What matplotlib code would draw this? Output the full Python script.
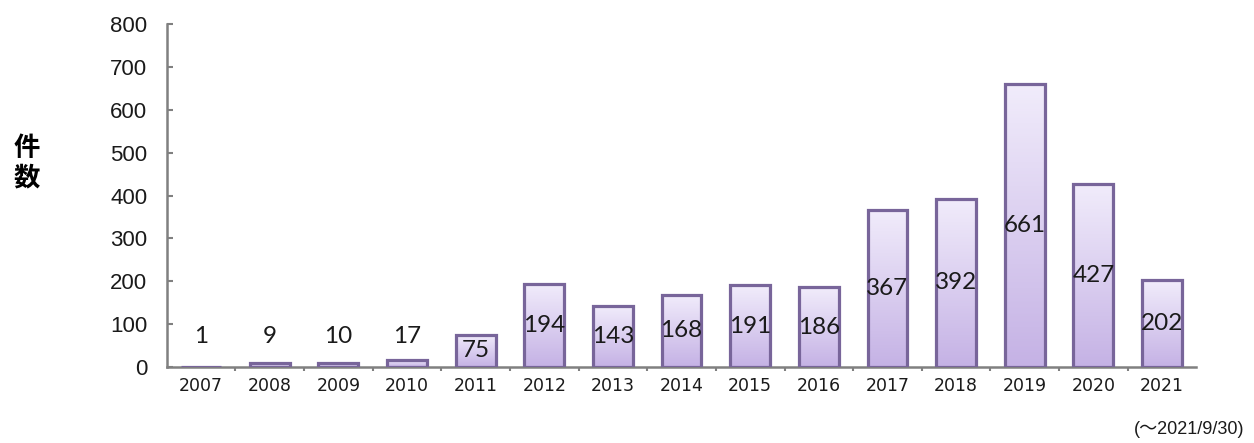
import numpy as np
import matplotlib.pyplot as plt
from matplotlib.colors import LinearSegmentedColormap

# data
years = ["2007", "2008", "2009", "2010", "2011", "2012", "2013", "2014",
         "2015", "2016", "2017", "2018", "2019", "2020", "2021"]
counts = [1, 9, 10, 17, 75, 194, 143, 168, 191, 186, 367, 392, 661, 427, 202]
y_ticks = [0, 100, 200, 300, 400, 500, 600, 700, 800]

# bar colours: light lavender on top, deeper purple at the bottom
grad = LinearSegmentedColormap.from_list("bar", ["#c5b2e5", "#f1ecfb"])
edge_col = "#78659a"

fig = plt.figure(figsize=(12.54, 4.43), dpi=100)
ax = fig.add_axes([0.133, 0.1716, 0.821, 0.774])

x = np.arange(len(years))
bars = ax.bar(x, counts, width=0.58, facecolor="none", edgecolor=edge_col,
              linewidth=2.3, zorder=3)

# gradient fill clipped to each bar
for b in bars:
    x0, y0 = b.get_x(), b.get_y()
    w, h = b.get_width(), b.get_height()
    img = ax.imshow(np.linspace(0, 1, 100).reshape(-1, 1), cmap=grad,
                    aspect="auto", origin="lower",
                    extent=[x0, x0 + w, y0, y0 + h], zorder=2)
    img.set_clip_path(b)

# value labels: inside the bar centre, small ones float above
for xi, v in zip(x, counts):
    ypos = 70 if v < 50 else v / 2
    ax.text(xi, ypos, str(v), ha="center", va="center", fontsize=17.5,
            family="Lato", color="#1a1a1a", zorder=4)

ax.set_xlim(-0.5, len(years) - 0.5)
ax.set_ylim(0, 800)
ax.set_yticks(y_ticks)
ax.set_yticklabels([str(t) for t in y_ticks], fontsize=16,
                   family="Liberation Sans", color="#1a1a1a")
ax.set_xticks(x)
ax.set_xticklabels(years, fontsize=12.5, family="DejaVu Sans", color="#1a1a1a")
ax.tick_params(axis="x", length=0, pad=7)
ax.tick_params(axis="y", direction="in", length=4, width=1.5,
               color="#808080", pad=14)
# small separators between categories on the x axis
ax.set_xticks(x[:-1] + 0.5, minor=True)
ax.tick_params(axis="x", which="minor", direction="out", length=3,
               width=1.5, color="#808080")

for s in ["top", "right"]:
    ax.spines[s].set_visible(False)
for s in ["left", "bottom"]:
    ax.spines[s].set_color("#808080")
    ax.spines[s].set_linewidth(1.8)

fig.text(0.0215, 0.632, "件\n数", ha="center", va="center", fontsize=19,
         fontweight="bold", family="Noto Sans CJK JP", linespacing=1.1)
fig.text(0.992, 0.03, "(～2021/9/30)", ha="right", va="center", fontsize=13,
         family=["Liberation Sans", "Noto Sans CJK JP"], color="#1a1a1a")

fig.savefig("out.png", dpi=100)
